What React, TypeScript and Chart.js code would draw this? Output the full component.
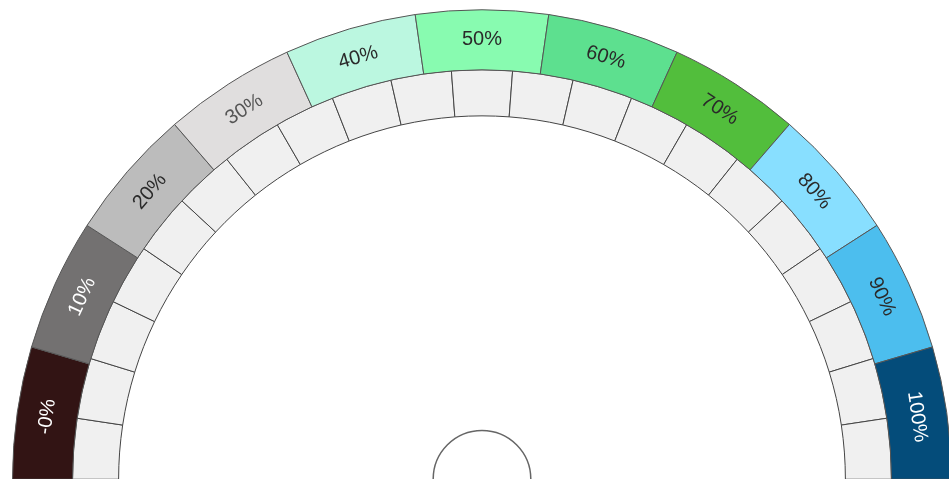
import React, { useEffect, useRef } from "react";
import { Chart, registerables } from "chart.js";

Chart.register(...registerables);

const bandLabels = ["-0%", "10%", "20%", "30%", "40%", "50%", "60%", "70%", "80%", "90%", "100%"];
const bandValues = [1, 1, 1, 1, 1, 1, 1, 1, 1, 1, 1];
const bandColors = [
  "#321414", "#737171", "#bcbcbc", "#e0dede", "#bbf7e0", "#88fbb0",
  "#5de08f", "#52be3c", "#88dfff", "#4cbeee", "#044c7a",
];
const bandTextColors = [
  "#ffffff", "#ffffff", "#2a2a2a", "#555555", "#2a2a2a", "#2a2a2a",
  "#2a2a2a", "#2a2a2a", "#2a2a2a", "#2a2a2a", "#ffffff",
];
const tickValues = [1, 1, 1, 1, 1, 1, 1, 1, 1, 1, 1, 1, 1, 1, 1, 1, 1, 1, 1, 1, 1];

const labelPlugin = {
  id: "bandLabels",
  afterDatasetsDraw(chart: any) {
    const ctx = chart.ctx;
    const meta = chart.getDatasetMeta(0);
    ctx.save();
    ctx.font = "20px 'Liberation Sans', Arial, sans-serif";
    ctx.textAlign = "center";
    ctx.textBaseline = "middle";
    meta.data.forEach((el: any, i: number) => {
      const p = el.getProps(["x", "y", "startAngle", "endAngle", "innerRadius", "outerRadius"], true);
      const mid = (p.startAngle + p.endAngle) / 2;
      const r = (p.innerRadius + p.outerRadius) / 2;
      ctx.save();
      ctx.translate(p.x + Math.cos(mid) * r, p.y + Math.sin(mid) * r);
      ctx.rotate(mid + Math.PI / 2);
      ctx.fillStyle = bandTextColors[i];
      ctx.fillText(bandLabels[i], 0, 0);
      ctx.restore();
    });
    // hub circle
    const first = meta.data[0];
    if (first) {
      const p = first.getProps(["x", "y", "outerRadius"], true);
      ctx.beginPath();
      ctx.arc(p.x, p.y, p.outerRadius * 0.104, 0, Math.PI * 2);
      ctx.strokeStyle = "#666666";
      ctx.lineWidth = 1.5;
      ctx.stroke();
    }
    ctx.restore();
  },
};

export default function App() {
  const canvasRef = useRef<HTMLCanvasElement | null>(null);

  useEffect(() => {
    if (!canvasRef.current) return;
    const chart = new Chart(canvasRef.current, {
      type: "doughnut",
      data: {
        labels: bandLabels,
        datasets: [
          {
            data: bandValues,
            backgroundColor: bandColors,
            borderColor: "#555555",
            borderWidth: 1,
            weight: 60,
          },
          {
            data: tickValues,
            backgroundColor: "#f0f0f0",
            borderColor: "#444444",
            borderWidth: 1,
            weight: 46,
          },
        ],
      },
      options: {
        animation: false,
        responsive: true,
        maintainAspectRatio: false,
        rotation: -90,
        circumference: 180,
        cutout: "77.4%",
        layout: { padding: 0 },
        plugins: {
          legend: { display: false },
          tooltip: { enabled: false },
        },
      },
      plugins: [labelPlugin],
    });
    return () => chart.destroy();
  }, []);

  return (
    <div
      style={{
        position: "fixed",
        left: 0,
        top: 0,
        width: 949,
        height: 479,
        overflow: "hidden",
        background: "#ffffff",
      }}
    >
      <div style={{ position: "absolute", left: 12, top: 9, width: 940, height: 471 }}>
        <canvas ref={canvasRef} />
      </div>
    </div>
  );
}
